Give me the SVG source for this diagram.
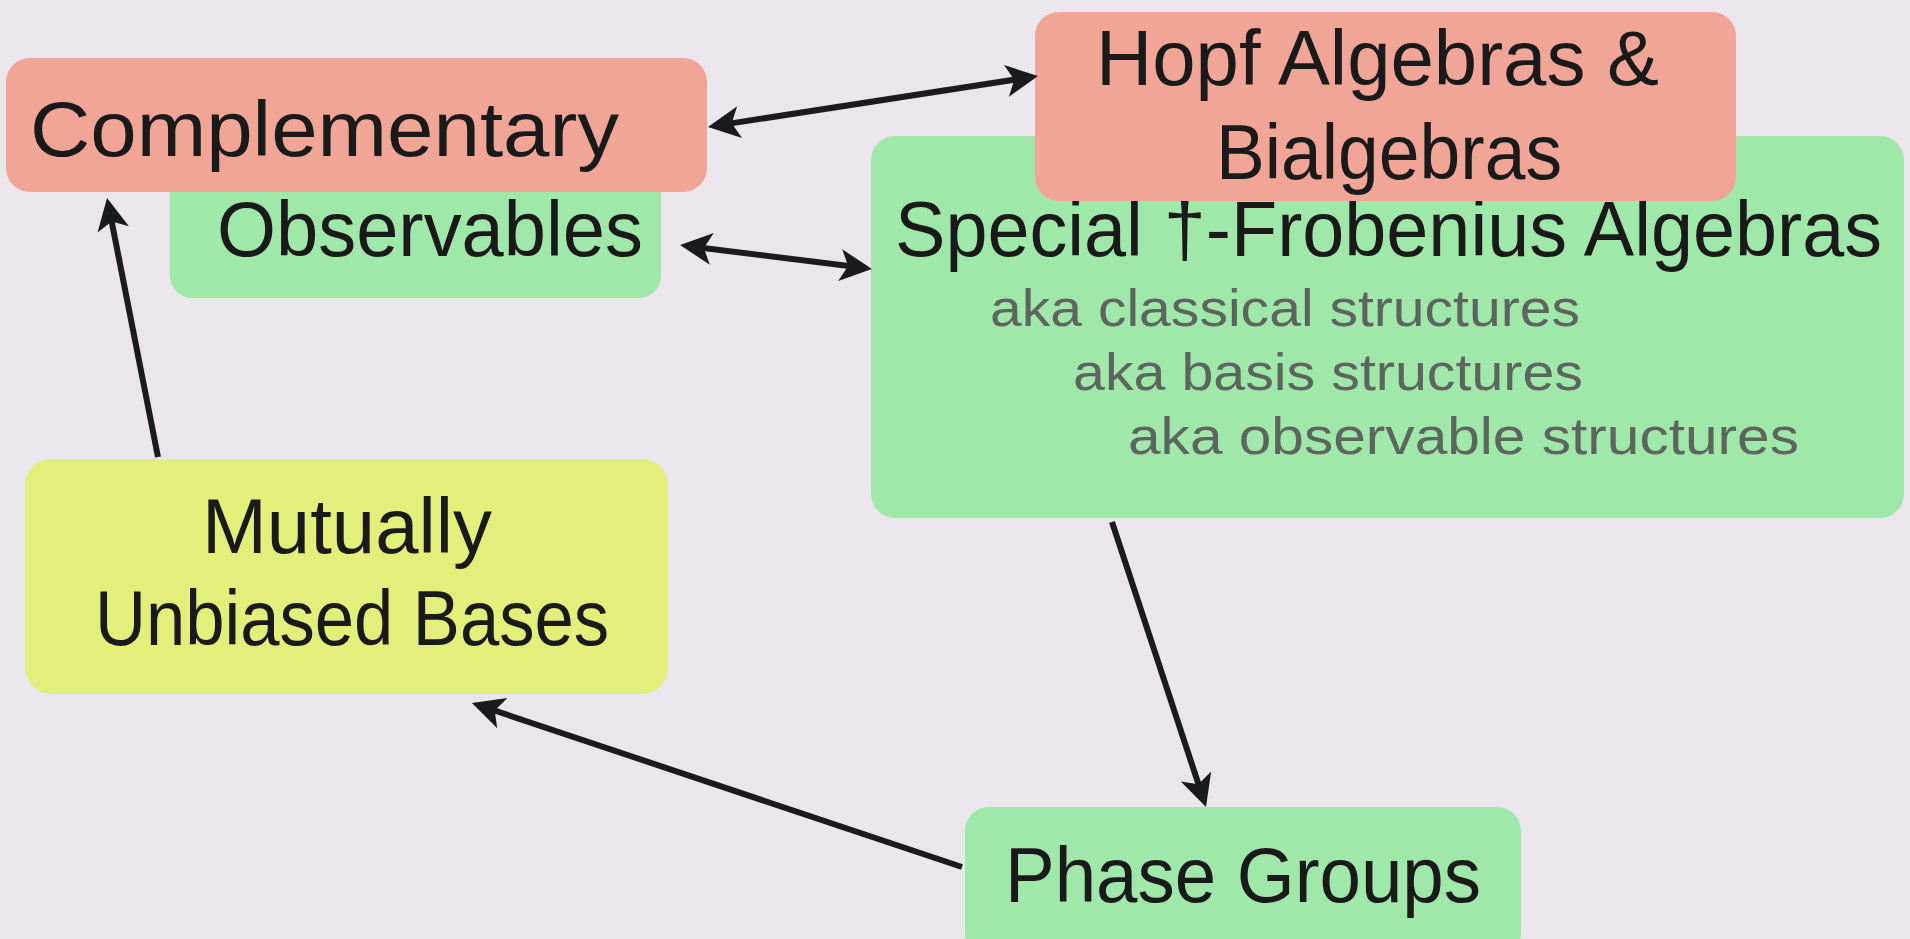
<svg xmlns="http://www.w3.org/2000/svg" width="1910" height="939" viewBox="0 0 1910 939">
  <defs>
    <style>
      .bg { fill: #ebe6ec; }
      .red { fill: #f1a597; }
      .green { fill: #a0e8aa; }
      .yellow { fill: #e4ee7a; }
      .big { font-family: "Liberation Sans", Arial, sans-serif; font-size: 78px; fill: #1a1a1a; }
      .aka { font-family: "Liberation Sans", Arial, sans-serif; font-size: 52px; fill: #5c665e; }
      .edge { stroke: #1b1b1d; stroke-width: 6; fill: none; marker-end: url(#head); }
      .both { marker-start: url(#head); }
    </style>
    <marker id="head" viewBox="-2 -18 36 36" markerUnits="userSpaceOnUse" markerWidth="36" markerHeight="36" refX="25" refY="0" orient="auto-start-reverse">
      <path d="M0,-16 L32,0 L0,16 L8,0 Z" fill="#1b1b1d"/>
    </marker>
  </defs>

  <rect class="bg" x="0" y="0" width="1910" height="939"/>

  <!-- Observables (partly behind Complementary) -->
  <g id="observables">
    <rect class="green" x="170" y="150" width="491" height="148" rx="22"/>
    <text class="big" x="217" y="256" textLength="426" lengthAdjust="spacingAndGlyphs">Observables</text>
  </g>

  <g id="complementary">
    <rect class="red" x="6" y="58" width="701" height="134" rx="24"/>
    <text class="big" x="30" y="156" textLength="589" lengthAdjust="spacingAndGlyphs">Complementary</text>
  </g>

  <g id="frobenius">
    <rect class="green" x="871" y="136" width="1033" height="382" rx="24"/>
    <text class="big" x="895" y="256" textLength="987" lengthAdjust="spacingAndGlyphs">Special †-Frobenius Algebras</text>
    <text class="aka" x="990" y="326" textLength="590" lengthAdjust="spacingAndGlyphs">aka classical structures</text>
    <text class="aka" x="1073" y="390" textLength="510" lengthAdjust="spacingAndGlyphs">aka basis structures</text>
    <text class="aka" x="1128" y="454" textLength="671" lengthAdjust="spacingAndGlyphs">aka observable structures</text>
  </g>

  <g id="hopf">
    <rect class="red" x="1035" y="12" width="701" height="189" rx="24"/>
    <text class="big" x="1096" y="85" textLength="563" lengthAdjust="spacingAndGlyphs">Hopf Algebras &amp;</text>
    <text class="big" x="1216" y="179" textLength="346" lengthAdjust="spacingAndGlyphs">Bialgebras</text>
  </g>

  <g id="mub">
    <rect class="yellow" x="25" y="459" width="643" height="235" rx="26"/>
    <text class="big" x="202" y="553" textLength="290" lengthAdjust="spacingAndGlyphs">Mutually</text>
    <text class="big" x="95" y="645" textLength="514" lengthAdjust="spacingAndGlyphs">Unbiased Bases</text>
  </g>

  <g id="phase">
    <rect class="green" x="965" y="807" width="556" height="150" rx="24"/>
    <text class="big" x="1005" y="902" textLength="476" lengthAdjust="spacingAndGlyphs">Phase Groups</text>
  </g>

  <g id="connectors">
    <line class="edge both" x1="714.9" y1="125.9" x2="1031.1" y2="77.1"/>
    <line class="edge both" x1="687" y1="245.9" x2="865" y2="268.1"/>
    <line class="edge" x1="158" y1="457" x2="108.4" y2="204.9"/>
    <line class="edge" x1="1112" y1="522" x2="1203.8" y2="800.3"/>
    <line class="edge" x1="962" y1="867" x2="478.6" y2="705.2"/>
  </g>
</svg>
